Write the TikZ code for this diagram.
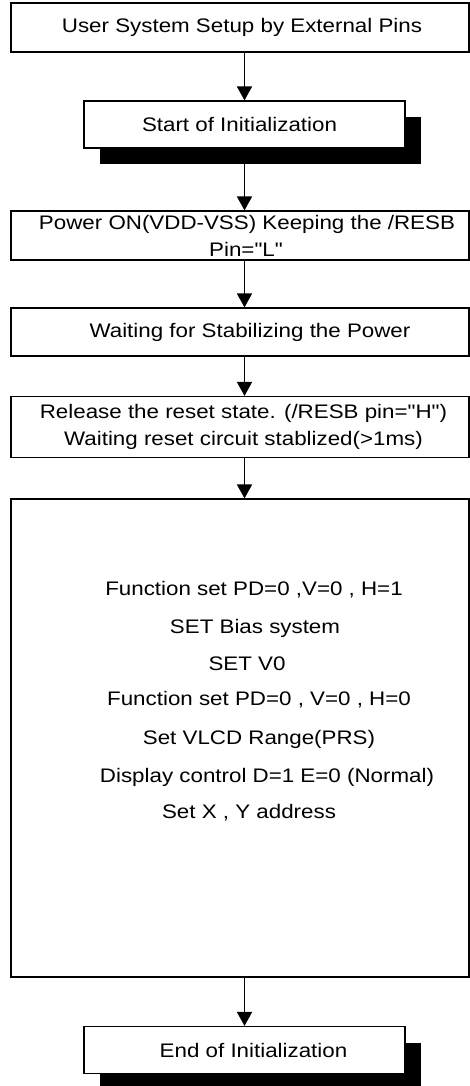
\documentclass[tikz,border=0pt]{standalone}
\usepackage{fontspec}
\setmainfont{Liberation Sans}[FakeStretch = 1.14]
\newfontfamily\plainquote{Liberation Sans}[FakeStretch = 1.14]
\usetikzlibrary{arrows.meta}
\newcommand*{\flowfont}{\fontsize{19.6}{27}\selectfont}
\newcommand*{\dq}{{\plainquote\symbol{34}}}
\tikzset{
   widebox/.style = {
      draw, line width = 1.2pt, fill = white,
      minimum width = 458pt, inner sep = 0pt,
      font = \flowfont, align = center
   },
   initbox/.style = {
      draw, line width = 1.2pt, fill = white,
      minimum width = 321pt, minimum height = 47pt,
      inner sep = 0pt, font = \flowfont
   },
   shadebox/.style = {
      fill = black, minimum width = 321pt,
      minimum height = 47pt, inner sep = 0pt
   },
   steptext/.style = {font = \flowfont, inner sep = 0pt},
   flowarrow/.style = {
      line width = 1.8pt,
      -{Triangle[width = 15pt, length = 14pt]}
   }
}
\newcommand{\shadowstep}[3]{%
   % node name, centre y, text
   \node[shadebox] (#1shadow) at (260.5,#2+16) {};
   \node[initbox] (#1) at (244.5,#2) {#3};
}

\begin{document}
\begin{tikzpicture}[x = 1pt, y = -1pt]
   \useasboundingbox (0,0) rectangle (470,1086);

   \node[widebox, minimum height = 49pt] (setup) at (240,27.5)
      {\hspace*{4pt}User System Setup by External Pins};
   \shadowstep{start}{124.5}{Start of Initialization\hspace*{10pt}}
   \node[widebox, minimum height = 49pt] (power) at (240,235.5)
      {\hspace*{14pt}Power ON(VDD-VSS) Keeping the /RESB\\
       \hspace*{12pt}Pin=\dq L\dq};
   \node[widebox, minimum height = 48pt] (wait) at (240,332)
      {\hspace*{20pt}Waiting for Stabilizing the Power};
   \node[widebox, minimum height = 61pt] (release) at (240,427)
      {\hspace*{7pt}Release the reset state. (/RESB pin=\dq H\dq)\\
       \hspace*{7pt}Waiting reset circuit stablized(>1ms)};
   \node[widebox, minimum height = 478pt] (funcs) at (240,738) {};
   \shadowstep{end}{1050}{\hspace*{18pt}End of Initialization}

   \node[steptext] (fsetone)  at (254,590) {Function set PD=0 ,V=0 , H=1};
   \node[steptext] (bias)     at (255,628) {SET Bias system};
   \node[steptext] (vzero)    at (247,664) {SET V0};
   \node[steptext] (fsetzero) at (259,700) {Function set PD=0 , V=0 , H=0};
   \node[steptext] (vlcd)     at (259,739) {Set VLCD Range(PRS)};
   \node[steptext] (display)  at (267,777) {Display control D=1 E=0 (Normal)};
   \node[steptext] (address)  at (249,813) {Set X , Y address};

   \draw[flowarrow] (setup.south -| start.north) -- (start.north);
   \draw[flowarrow] (startshadow.south -| start.south) -- (power.north -| start.south);
   \draw[flowarrow] (power.south -| start.south) -- (wait.north -| start.south);
   \draw[flowarrow] (wait.south -| start.south) -- (release.north -| start.south);
   \draw[flowarrow] (release.south -| start.south) -- (funcs.north -| start.south);
   \draw[flowarrow] (funcs.south -| end.north) -- (end.north);
\end{tikzpicture}
\end{document}
